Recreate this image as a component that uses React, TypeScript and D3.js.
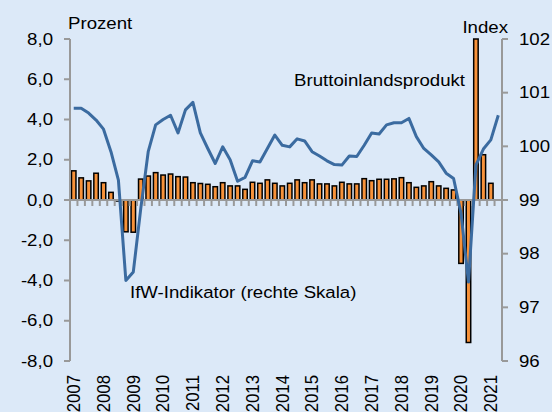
import { useRef, useEffect } from 'react';
import * as d3 from 'd3';

// Quartalswerte
const years = ['2007', '2008', '2009', '2010', '2011', '2012', '2013', '2014', '2015', '2016', '2017', '2018', '2019', '2020', '2021'];
const quarters = years.flatMap((y) => ['Q1', 'Q2', 'Q3', 'Q4'].map((q) => `${y} ${q}`)).slice(0, 58);

// Bruttoinlandsprodukt, Veränderung gegenüber Vorquartal (linke Skala, Prozent)
const gdp = [
  1.45, 1.1, 0.95, 1.33, 0.86, 0.38, -0.05, -1.58, -1.6,
  1.04, 1.19, 1.36, 1.24, 1.29, 1.16, 1.14, 0.86, 0.82,
  0.78, 0.66, 0.86, 0.7, 0.7, 0.53, 0.88, 0.83, 1.0, 0.83, 0.7, 0.83,
  1.0, 0.86, 1.0, 0.8, 0.8, 0.7, 0.88, 0.8, 0.8,
  1.06, 0.96, 1.03, 1.03, 1.05, 1.11, 0.86, 0.63, 0.7, 0.91, 0.7, 0.58, 0.5,
  -3.15, -7.08, 8.5, 2.25, 0.83,
];

// IfW-Indikator (rechte Skala, Index)
const indicator = [
  100.71, 100.71, 100.62, 100.49, 100.32, 99.9, 99.37, 97.5, 97.66,
  98.84, 99.9, 100.4, 100.5, 100.58, 100.25, 100.68, 100.82, 100.25,
  99.96, 99.68, 99.99, 99.75, 99.35, 99.42, 99.73, 99.71, 99.96, 100.21, 100.02, 99.99,
  100.14, 100.1, 99.9, 99.82, 99.73, 99.66, 99.65, 99.82, 99.81,
  100.02, 100.25, 100.23, 100.4, 100.44, 100.44, 100.52, 100.18, 99.96, 99.84, 99.71, 99.5, 99.4,
  98.75, 97.47, 99.65, 99.95, 100.12, 100.58,
];

const leftTicks = [-8, -6, -4, -2, 0, 2, 4, 6, 8];
const rightTicks = [96, 97, 98, 99, 100, 101, 102];

const W = 552;
const H = 412;
const PLOT = { left: 70, right: 502, top: 39, bottom: 361 };
const BG = '#dce9f8';
const AXIS = '#999999';
const FONT = '"Liberation Sans", Arial, sans-serif';
const FS = 16.8;
const SX = 1.11; // Originalbild ist leicht in die Breite gezogen

export default function App() {
  const svgRef = useRef<SVGSVGElement>(null);

  useEffect(() => {
    if (!svgRef.current) return;
    const svg = d3.select(svgRef.current);
    svg.selectAll('*').remove();

    const x = d3.scaleBand<string>().domain(quarters).range([PLOT.left, PLOT.right]);
    const yL = d3.scaleLinear().domain([-8, 8]).range([PLOT.bottom, PLOT.top]).clamp(true);
    const yR = d3.scaleLinear().domain([96, 102]).range([PLOT.bottom, PLOT.top]);

    const label = (tx: number, ty: number, text: string, anchor = 'start', extra = '') =>
      svg
        .append('text')
        .attr('transform', `translate(${tx},${ty}) scale(${SX},1)${extra}`)
        .attr('text-anchor', anchor)
        .style('font-family', FONT)
        .style('font-size', `${FS}px`)
        .style('fill', '#000')
        .text(text);

    svg.append('rect').attr('width', W).attr('height', H).attr('fill', BG);

    // Balken
    const bw = x.bandwidth() * 0.6;
    svg
      .append('g')
      .selectAll('rect')
      .data(gdp)
      .enter()
      .append('rect')
      .attr('x', (_, i) => (x(quarters[i]) as number) + (x.bandwidth() - bw) / 2)
      .attr('y', (d) => Math.min(yL(d), yL(0)))
      .attr('width', bw)
      .attr('height', (d) => Math.abs(yL(d) - yL(0)))
      .attr('fill', '#f7923a')
      .attr('stroke', '#000')
      .attr('stroke-width', 1.5);

    // Achsen
    const axes = svg.append('g').attr('stroke', AXIS).attr('stroke-width', 2).attr('fill', 'none');
    axes.append('line').attr('x1', PLOT.left).attr('x2', PLOT.left).attr('y1', yL(8)).attr('y2', yL(-8));
    axes.append('line').attr('x1', PLOT.right).attr('x2', PLOT.right).attr('y1', yR(102)).attr('y2', yR(96));
    axes.append('line').attr('x1', PLOT.left).attr('x2', PLOT.right).attr('y1', yL(0)).attr('y2', yL(0));
    leftTicks.forEach((t) => {
      axes.append('line').attr('x1', PLOT.left - 6).attr('x2', PLOT.left).attr('y1', yL(t)).attr('y2', yL(t));
    });
    rightTicks.forEach((t) => {
      axes.append('line').attr('x1', PLOT.right).attr('x2', PLOT.right + 6).attr('y1', yR(t)).attr('y2', yR(t));
    });
    quarters.slice(1).forEach((q) => {
      const xt = x(q) as number;
      axes.append('line').attr('x1', xt).attr('x2', xt).attr('y1', yL(0)).attr('y2', yL(0) + 6);
    });

    // Indikator-Linie
    const line = d3
      .line<number>()
      .x((_, i) => (x(quarters[i]) as number) + x.bandwidth() / 2)
      .y((d) => yR(d));
    svg
      .append('path')
      .datum(indicator)
      .attr('d', line)
      .attr('fill', 'none')
      .attr('stroke', '#3b6ba0')
      .attr('stroke-width', 3)
      .attr('stroke-linejoin', 'round');

    // Achsenbeschriftungen
    const fmt = (t: number) => d3.format('.1f')(t).replace('.', ',').replace('\u2212', '-');
    leftTicks.forEach((t) => {
      label(53, yL(t), fmt(t), 'end').attr('dominant-baseline', 'central');
    });
    rightTicks.forEach((t) => {
      label(519, yR(t), String(t)).attr('dominant-baseline', 'central');
    });
    years.forEach((y) => {
      const xc = (x(`${y} Q1`) as number) + x.bandwidth() / 2;
      label(xc, 375, y, 'end', ' rotate(-90)').attr('dominant-baseline', 'central');
    });

    label(68, 29, 'Prozent');
    label(508, 33, 'Index', 'end');
    label(465, 86, 'Bruttoinlandsprodukt', 'end');
    label(130, 298, 'IfW-Indikator (rechte Skala)');
  }, []);

  return (
    <div style={{ position: 'absolute', left: 0, top: 0 }}>
      <svg ref={svgRef} width={W} height={H} style={{ display: 'block' }} />
    </div>
  );
}
